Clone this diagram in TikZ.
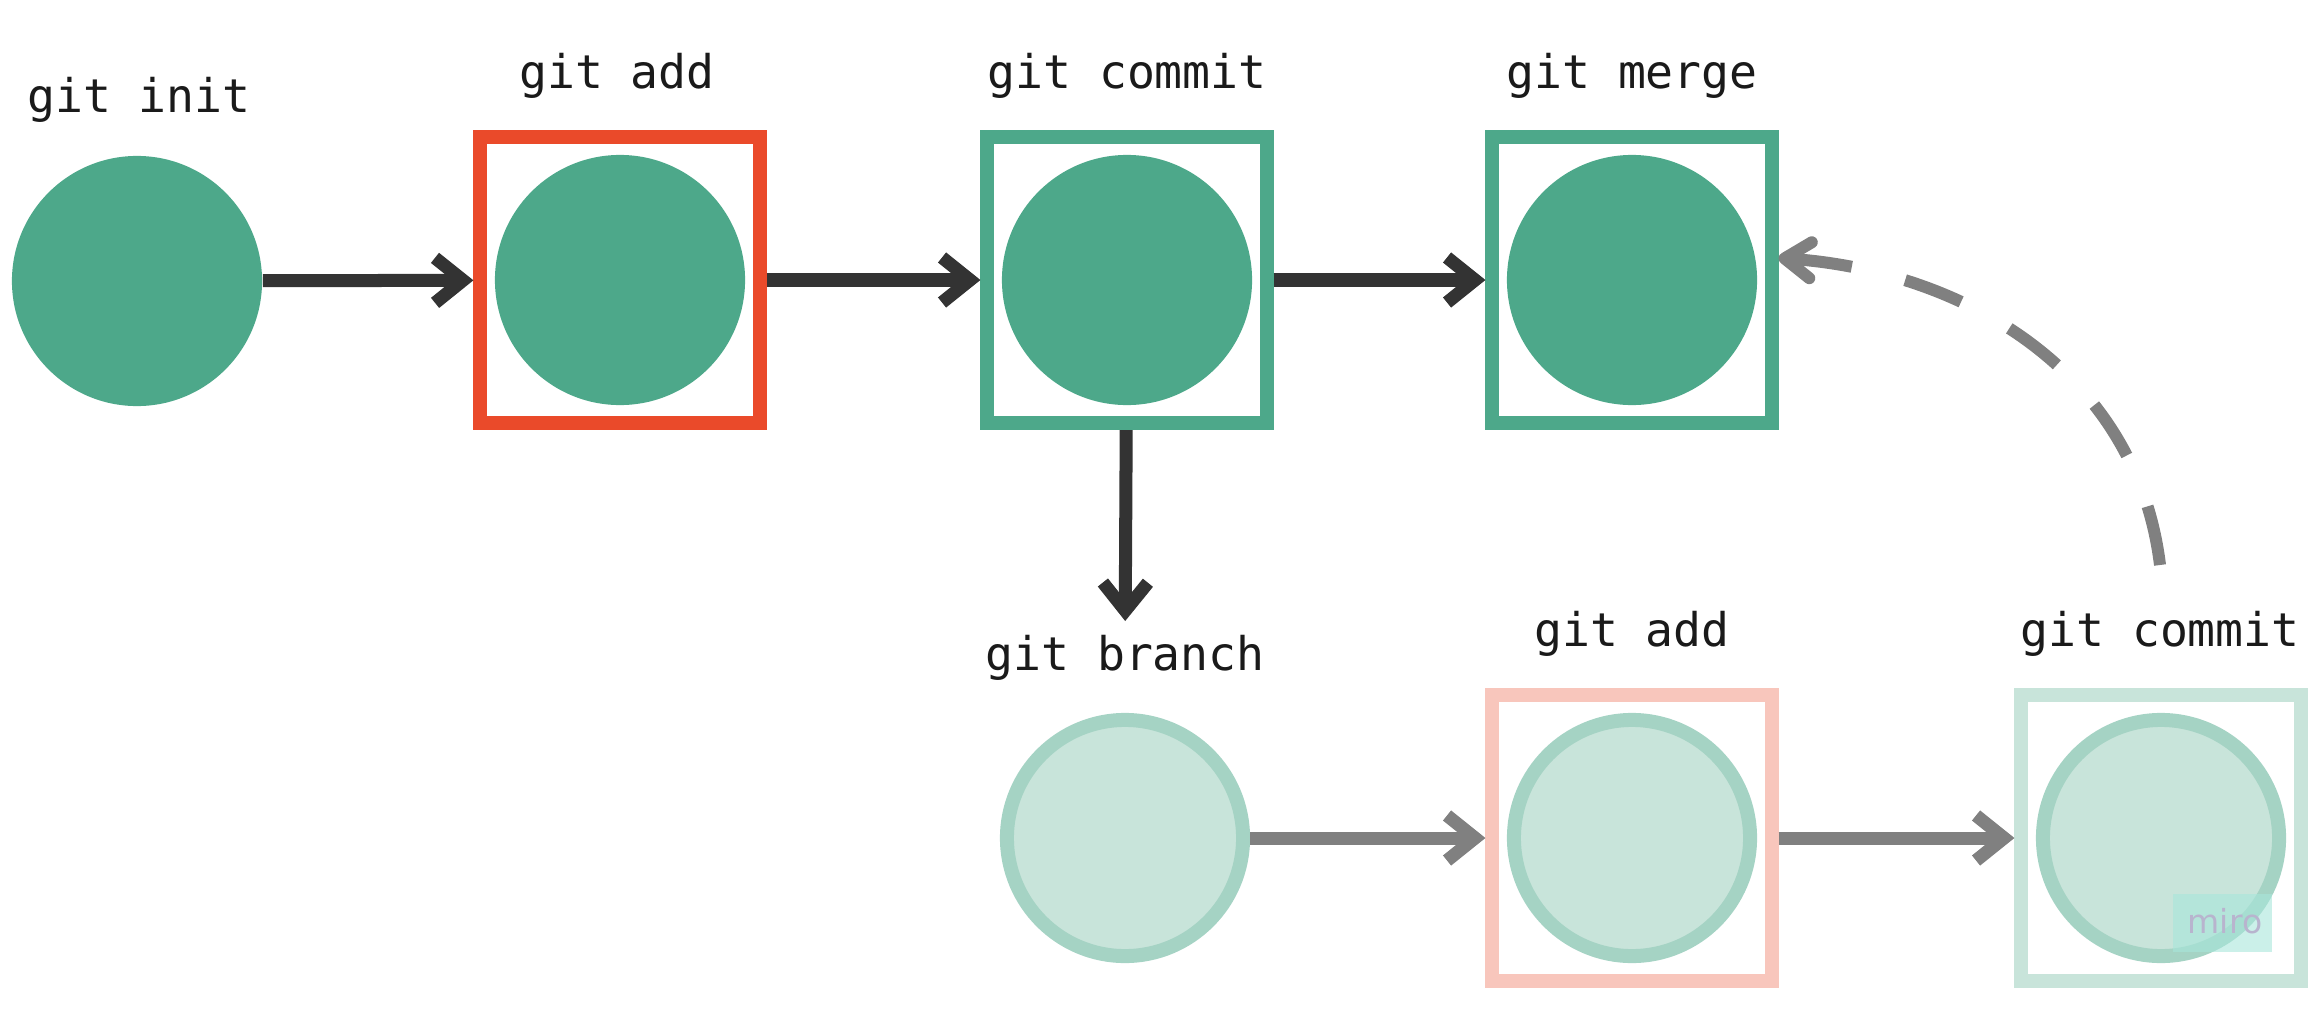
\documentclass[tikz,border=0pt]{standalone}
\usepackage{fontspec}
\setmonofont{DejaVu Sans Mono}
\newfontfamily\mirofont{DejaVu Sans}
\usetikzlibrary{arrows.meta}

\definecolor{commitgreen}{HTML}{4DA88A}
\definecolor{addred}{HTML}{EA4A2A}
\definecolor{ringgreen}{HTML}{A5D3C4}
\definecolor{palegreen}{HTML}{C8E4DA}
\definecolor{palered}{HTML}{F8C6BC}
\definecolor{darkarrow}{HTML}{333333}
\definecolor{greyarrow}{HTML}{808080}
\definecolor{labeltext}{HTML}{1A1A1A}
\definecolor{mirobox}{HTML}{A8E6DA}
\definecolor{mirotext}{HTML}{B8B4CE}

\tikzset{
	commitdot/.style={shape=circle, fill=commitgreen, minimum size=2.5cm, inner sep=0pt},
	branchdot/.style={shape=circle, fill=palegreen, draw=ringgreen, line width=0.14cm, minimum size=2.36cm, inner sep=0pt},
	cmdbox/.style={shape=rectangle, draw=#1, line width=0.14cm, minimum width=2.79cm, minimum height=2.86cm, inner sep=0pt},
	cmd/.style={font=\ttfamily\fontsize{13.2}{16}\selectfont, text=labeltext, anchor=base, inner sep=0.13cm},
	linktip/.style={-{Straight Barb[length=0.28cm, width=0.45cm, line join=miter, line cap=butt]}},
	darklink/.style={linktip, draw=darkarrow, line width=0.13cm},
	greylink/.style={linktip, draw=greyarrow, line width=0.13cm},
	mergelink/.style={-{Straight Barb[length=0.26cm, width=0.36cm, line join=round, line cap=round]}, draw=greyarrow, line width=0.12cm, dash pattern=on 0.6cm off 0.55cm}
}

\begin{document}
\begin{tikzpicture}[x=0.01cm, y=-0.01cm]
	\useasboundingbox (0,0) rectangle (2318,1024);

	% main line
	\node[commitdot] (init) at (137,281) {};
	\node[cmdbox=addred] (addbox) at (620,280) {};
	\node[commitdot] (add) at (620,280) {};
	\node[cmdbox=commitgreen] (commitbox) at (1127,280) {};
	\node[commitdot] (commit) at (1127,280) {};
	\node[cmdbox=commitgreen] (mergebox) at (1632,280) {};
	\node[commitdot] (merge) at (1632,280) {};

	% branch line
	\node[branchdot] (branch) at (1125,838) {};
	\node[cmdbox=palered] (branchaddbox) at (1632,838) {};
	\node[branchdot] (branchadd) at (1632,838) {};
	\node[cmdbox=palegreen] (branchcommitbox) at (2161,838) {};
	\node[branchdot] (branchcommit) at (2161,838) {};

	\node[cmd] (initlbl) at (139,112) {git init};
	\node[cmd] (addlbl) at (617,88) {git add};
	\node[cmd] (commitlbl) at (1127,88) {git commit};
	\node[cmd] (mergelbl) at (1632,88) {git merge};
	\node[cmd] (branchlbl) at (1125,670) {git branch};
	\node[cmd] (branchaddlbl) at (1632,646) {git add};
	\node[cmd] (branchcommitlbl) at (2160,646) {git commit};

	\path [darklink] (init) edge (addbox);
	\path [darklink] (addbox) edge (commitbox);
	\path [darklink] (commitbox) edge (mergebox);
	\path [darklink] (commitbox) edge (branchlbl);
	\path [greylink] (branch) edge (branchaddbox);
	\path [greylink] (branchaddbox) edge (branchcommitbox);

	\coordinate (mergefrom) at (2160,565);
	\draw [mergelink] (mergefrom) to[out=97, in=-4] ([yshift=0.22cm]mergebox.east);

	% watermark
	\node[fill=mirobox, opacity=0.6, minimum width=0.99cm, minimum height=0.57cm, inner sep=0pt] (mirobg) at (2222,923) {};
	\node[font=\mirofont\fontsize{9.4}{11}\selectfont, text=mirotext, anchor=base, inner sep=0pt] (mirolbl) at (2225,933) {miro};
\end{tikzpicture}
\end{document}
